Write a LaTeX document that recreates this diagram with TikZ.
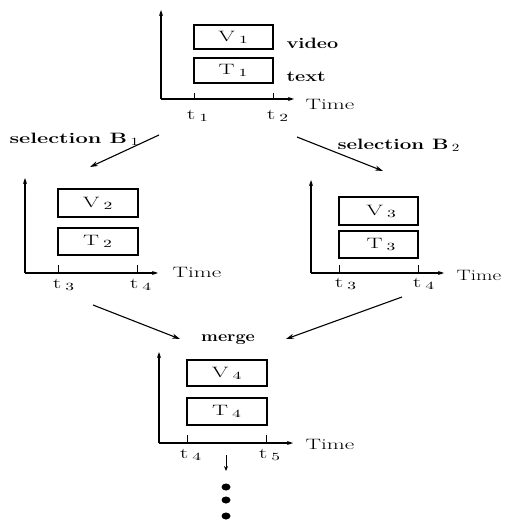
\documentclass[tikz,border=0pt]{standalone}
\usetikzlibrary{arrows.meta}
\newcommand{\stretchx}[2]{\scalebox{#1}[1]{#2}}
\begin{document}
\begin{tikzpicture}[x=1pt,y=-1pt,line width=1.1pt,
  box/.style={draw,minimum width=79pt,minimum height=26pt,inner sep=0pt,font=\fontsize{15}{18}\selectfont},
  lbl/.style={inner sep=0pt,font=\fontsize{15}{18}\selectfont},
  blbl/.style={inner sep=0pt,font=\fontsize{15}{18}\selectfont\bfseries},
  axis/.style={-{Stealth[length=6pt,width=4pt]}},
  flow/.style={-{Stealth[length=8pt,width=5pt]}},
  tick/.style={line width=0.7pt}]
\useasboundingbox (0,0) rectangle (508,526);
% ---------- top diagram ----------
\coordinate (o1) at (161,99);
\coordinate (y1) at (161,10);
\coordinate (x1) at (294,99);
\draw[axis] (o1) -- (y1);
\draw[axis] (o1) -- (x1);
\node[box,minimum height=24pt] (V1) at (233.5,37) {\stretchx{1.6}{V\,$_1$}};
\node[box,minimum height=25pt] (T1) at (233.5,70.5) {\stretchx{1.6}{T\,$_1$}};
\draw[tick] (194,93) -- (194,99);
\draw[tick] (273,93) -- (273,99);
\node[blbl,anchor=west] (video) at (286,43) {\stretchx{1.32}{video}};
\node[blbl,anchor=west] (text) at (286,77) {\stretchx{1.32}{text}};
\node[lbl,anchor=west] (time1) at (305,104) {\stretchx{1.55}{Time}};
\node[lbl] (t1) at (198,116) {\stretchx{1.6}{t\,$_1$}};
\node[lbl] (t2) at (278,116) {\stretchx{1.6}{t\,$_2$}};
% ---------- left diagram ----------
\coordinate (o2) at (25,273);
\coordinate (y2) at (25,178);
\coordinate (x2) at (158,273);
\draw[axis] (o2) -- (y2);
\draw[axis] (o2) -- (x2);
\node[box,minimum width=80pt,minimum height=28pt] (V2) at (98,203) {\stretchx{1.6}{V\,$_2$}};
\node[box,minimum width=80pt,minimum height=27pt] (T2) at (98,241.5) {\stretchx{1.6}{T\,$_2$}};
\draw[tick] (58,265) -- (58,273);
\draw[tick] (137,265) -- (137,273);
\node[lbl,anchor=west] (time2) at (172,272) {\stretchx{1.55}{Time}};
\node[lbl] (t3a) at (64,285) {\stretchx{1.6}{t\,$_3$}};
\node[lbl] (t4a) at (141,285) {\stretchx{1.6}{t\,$_4$}};
% ---------- right diagram ----------
\coordinate (o3) at (311,273);
\coordinate (y3) at (311,180);
\coordinate (x3) at (444,273);
\draw[axis] (o3) -- (y3);
\draw[axis] (o3) -- (x3);
\node[box,minimum height=28pt] (V3) at (378.5,211) {\hspace*{6pt}\stretchx{1.6}{V\,$_3$}};
\node[box,minimum height=27pt] (T3) at (378.5,244.5) {\hspace*{6pt}\stretchx{1.6}{T\,$_3$}};
\draw[tick] (339,265) -- (339,273);
\draw[tick] (418,265) -- (418,273);
\node[lbl,anchor=west] (time3) at (456,275) {\stretchx{1.42}{Time}};
\node[lbl] (t3b) at (346,284) {\stretchx{1.6}{t\,$_3$}};
\node[lbl] (t4b) at (424,284) {\stretchx{1.6}{t\,$_4$}};
% ---------- bottom diagram ----------
\coordinate (o4) at (159,443);
\coordinate (y4) at (159,352);
\coordinate (x4) at (293,443);
\draw[axis] (o4) -- (y4);
\draw[axis] (o4) -- (x4);
\node[box,minimum width=80pt,minimum height=26pt] (V4) at (227,373) {\stretchx{1.6}{V\,$_4$}};
\node[box,minimum width=80pt,minimum height=27pt] (T4) at (227,411.5) {\stretchx{1.6}{T\,$_4$}};
\draw[tick] (187,435) -- (187,443);
\draw[tick] (266,435) -- (266,443);
\node[lbl,anchor=west] (time4) at (305,444) {\stretchx{1.55}{Time}};
\node[lbl] (t4c) at (191,455) {\stretchx{1.6}{t\,$_4$}};
\node[lbl] (t5) at (270,455) {\stretchx{1.6}{t\,$_5$}};
\node[blbl] (merge) at (228,340) {\stretchx{1.2}{merge}};
% ---------- selections ----------
\node[blbl,anchor=west] (sel1) at (9,139) {\stretchx{1.45}{selection B\,$_1$}};
\node[blbl,anchor=west] (sel2) at (337,145) {\stretchx{1.37}{selection B\,$_2$}};
\coordinate (a1s) at (159,135);
\coordinate (a1e) at (90,167);
\coordinate (a2s) at (297,137);
\coordinate (a2e) at (383,171);
\coordinate (a3s) at (93,305);
\coordinate (a3e) at (180,339);
\coordinate (a4s) at (402,297);
\coordinate (a4e) at (286,339);
\draw[flow] (a1s) -- (a1e);
\draw[flow] (a2s) -- (a2e);
\draw[flow] (a3s) -- (a3e);
\draw[flow] (a4s) -- (a4e);
% ---------- continuation ----------
\coordinate (ds) at (226,455);
\coordinate (de) at (226,471);
\draw[line width=0.8pt,-{Stealth[length=5pt,width=4pt]}] (ds) -- (de);
\fill (226,487) ellipse (4.5 and 3.5);
\fill (226,500) ellipse (4.5 and 3.5);
\fill (226,516) ellipse (4.5 and 3.5);
\end{tikzpicture}
\end{document}
